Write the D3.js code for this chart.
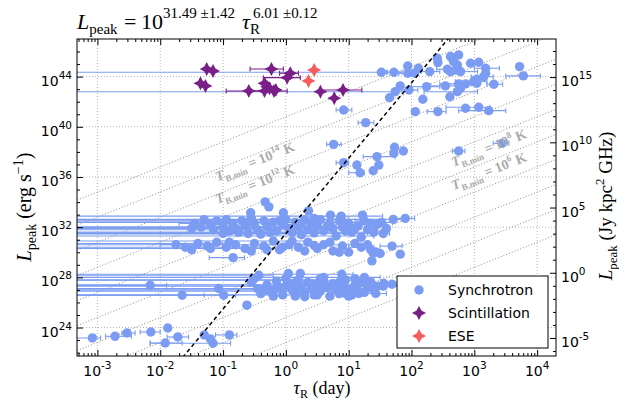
<!DOCTYPE html>
<html>
<head>
<meta charset="utf-8">
<script src="https://cdn.jsdelivr.net/npm/d3@7"></script>
<style>
body { margin: 0; background: #fff; }
svg text { font-family: "DejaVu Sans", sans-serif; }
.serif { font-family: "Liberation Serif", "DejaVu Serif", serif; }
</style>
</head>
<body>
<div id="chart"></div>
<script>
// rows: [log10 tau_R (day), log10 L_peak (erg/s), log10 tau of left bar end, log10 tau of right bar end]
// a left end of -9 means the lower limit runs off the plot, null means no error bar
var synchrotron = [
  // top group
  [1.52,44.35,-9,1.62],[1.72,44.35,1.60,1.85],[1.94,44.85,null,null],[1.94,44.27,1.80,2.10],
  [2.05,44.27,null,null],[2.11,44.67,null,null],[2.29,44.40,2.15,2.45],[2.41,45.47,null,null],
  [2.42,45.12,null,null],[2.62,45.60,null,null],[2.75,45.73,null,null],[2.67,45.20,null,null],
  [2.73,44.93,null,null],[2.57,44.59,2.40,2.80],[2.62,44.40,null,null],[2.70,44.53,null,null],
  [2.78,44.40,2.60,3.05],[2.94,45.07,null,null],[3.07,45.15,null,null],[3.18,44.67,3.00,3.40],
  [3.18,44.27,null,null],[3.15,44.00,2.95,3.30],[3.04,43.79,null,null],[2.99,43.60,2.70,3.20],
  [2.86,43.42,null,null],[2.75,43.42,2.45,2.95],[2.78,43.07,null,null],[2.73,42.80,2.20,3.05],
  [2.54,43.26,2.30,2.70],[2.24,43.20,2.00,2.45],[1.82,43.26,null,null],[1.74,42.80,-9,1.85],
  [1.65,42.32,null,null],[1.96,42.94,1.75,2.10],[2.18,42.20,null,null],[2.61,42.40,null,null],
  [3.04,43.47,null,null],[3.31,43.39,3.20,3.45],[3.72,44.80,null,null],[3.78,44.06,3.50,4.05],
  [2.06,41.21,null,null],[2.42,41.21,2.25,2.55],[2.86,41.48,null,null],[3.07,41.56,2.55,3.25],
  [3.23,41.29,2.75,3.50],[1.27,40.33,1.15,1.40],[0.92,41.34,0.80,1.05],
  // middle
  [0.76,38.60,0.65,0.88],[1.73,38.37,null,null],[0.92,37.14,0.80,1.00],[1.13,36.95,null,null],
  [1.18,36.34,1.00,1.25],[1.39,36.50,null,null],[1.48,36.95,null,null],[1.45,37.62,1.23,1.74],
  [1.72,37.89,null,null],[1.87,38.07,null,null],[2.75,38.07,2.65,2.85],[3.44,38.68,3.30,3.55],
  [-0.33,34.02,null,null],[-0.27,33.62,null,null],[-0.56,33.15,null,null],[-0.04,33.15,null,null],
  [0.36,33.30,null,null],
  // upper dense band
  [-1.45,32.30,-1.70,-1.20],[-1.30,32.60,null,null],[-1.20,32.20,null,null],[-1.10,32.50,-9,-0.60],
  [-1.00,32.10,null,null],[-0.95,32.60,null,null],[-0.85,32.30,null,null],[-0.80,31.90,-9,-0.50],
  [-0.70,32.50,null,null],[-0.65,32.10,null,null],[-0.55,32.70,null,null],[-0.50,32.30,null,null],
  [-0.45,31.80,null,null],[-0.35,32.50,null,null],[-0.30,32.00,-9,0.10],[-0.20,32.40,null,null],
  [-0.15,31.70,null,null],[-0.05,32.20,null,null],[0.00,32.60,null,null],[0.05,31.90,null,null],
  [0.15,32.40,null,null],[0.20,32.00,null,null],[0.30,32.60,null,null],[0.35,31.80,-9,0.60],
  [0.40,32.30,null,null],[0.50,32.10,null,null],[0.55,32.60,-9,1.00],[0.60,31.70,null,null],
  [0.70,32.30,null,null],[0.75,31.90,null,null],[0.85,32.50,null,null],[0.90,32.00,-9,1.20],
  [1.00,32.30,null,null],[1.05,31.60,-9,1.30],[1.15,32.10,null,null],[1.25,32.50,1.10,1.50],
  [1.30,31.80,null,null],[1.45,32.20,1.30,1.60],[1.55,31.50,-9,1.65],[-1.00,31.50,-9,-0.70],
  [-0.40,31.45,-9,0.20],[0.25,31.40,null,null],[0.80,31.30,-9,1.40],[1.20,31.20,null,null],
  [0.71,32.96,null,null],[0.88,32.88,-9,1.54],[1.22,32.96,null,null],[1.52,32.38,-9,1.70],
  [1.90,32.70,1.75,2.05],[1.71,32.62,-9,1.85],[-0.75,31.60,-9,0.05],
  [-1.35,32.00,null,null],[-1.15,31.80,null,null],[-0.90,31.70,null,null],[-0.60,31.50,null,null],
  [-0.25,31.60,null,null],[0.10,31.60,null,null],[0.45,31.55,null,null],[0.65,32.00,null,null],
  [0.95,31.70,null,null],[1.10,31.90,null,null],[1.35,32.30,null,null],[1.60,31.90,null,null],
  [-0.10,32.50,null,null],[0.25,32.25,null,null],[-0.60,32.40,null,null],[0.45,32.70,null,null],
  [0.95,32.20,null,null],[1.40,31.60,null,null],[-1.50,31.90,null,null],
  // lower dense band
  [-1.75,30.60,-2.00,-1.40],[-1.60,30.40,null,null],[-1.40,30.70,-9,-0.90],[-1.25,30.50,null,null],
  [-1.10,30.80,null,null],[-0.95,30.40,-9,-0.40],[-0.80,30.60,null,null],[-0.65,30.30,-9,0.10],
  [-0.50,30.70,null,null],[-0.35,30.50,null,null],[-0.20,30.90,-9,0.40],[-0.10,30.20,null,null],
  [0.05,30.60,null,null],[0.20,30.40,null,null],[0.35,30.80,null,null],[0.50,30.30,null,null],
  [0.60,30.60,-9,1.10],[0.75,30.10,null,null],[0.90,30.50,null,null],[1.00,30.00,null,null],
  [1.20,30.40,1.00,1.40],[1.35,30.20,null,null],[1.50,29.90,null,null],[1.69,30.49,1.50,1.85],
  [1.82,29.85,null,null],[1.43,30.03,null,null],[1.39,29.95,null,null],[1.37,29.31,null,null],
  [-0.84,29.57,-1.22,-0.66],
  [-1.50,30.20,null,null],[-1.20,30.30,null,null],[-0.90,30.80,null,null],[-0.55,30.10,null,null],
  [-0.30,30.20,null,null],[0.10,30.90,null,null],[0.30,30.10,null,null],[0.70,30.80,null,null],
  [0.85,30.00,null,null],[1.10,30.70,null,null],[1.30,30.60,null,null],[-0.05,30.40,null,null],
  [0.45,30.55,null,null],
  // 1e26 - 1e28 band
  [-2.16,27.37,-9,-1.90],[-1.65,26.57,-9,-1.30],[-1.07,27.11,null,null],[-0.99,26.57,-9,-0.80],
  [-0.62,25.78,null,null],[-0.43,28.17,-9,-0.20],[0.04,28.31,null,null],[0.23,28.31,null,null],
  [0.89,28.25,-9,1.07],[1.24,27.77,-9,1.40],[1.56,27.51,null,null],[1.69,27.45,null,null],
  [1.43,26.71,1.20,1.60],[0.95,26.71,null,null],[1.16,26.71,null,null],
  [-0.55,27.60,null,null],[-0.45,27.10,null,null],[-0.40,26.70,null,null],[-0.30,27.40,-9,0.00],
  [-0.25,26.90,null,null],[-0.15,27.70,null,null],[-0.10,27.20,null,null],[-0.05,26.60,-9,0.20],
  [0.05,27.50,null,null],[0.10,27.00,null,null],[0.15,26.50,null,null],[0.20,27.80,-9,0.50],
  [0.25,27.30,null,null],[0.30,26.80,null,null],[0.35,27.60,null,null],[0.40,27.10,-9,0.70],
  [0.45,26.60,null,null],[0.50,27.40,null,null],[0.55,26.90,null,null],[0.60,27.70,null,null],
  [0.65,27.20,null,null],[0.70,26.50,null,null],[0.75,27.50,null,null],[0.80,27.00,-9,1.20],
  [0.85,26.70,null,null],[0.90,27.30,null,null],[0.95,27.80,null,null],[1.00,27.10,null,null],
  [1.05,26.60,null,null],[1.10,27.40,null,null],[1.15,26.90,-9,1.45],[1.20,27.60,null,null],
  [1.30,27.20,null,null],[1.40,27.00,null,null],[-0.50,27.90,null,null],[0.00,27.90,null,null],
  [0.60,28.00,null,null],[-0.20,26.50,null,null],[0.30,26.45,null,null],[1.55,27.30,-9,1.80],
  [1.25,28.00,-9,1.50],
  [-0.35,27.00,null,null],[0.00,27.30,null,null],[0.20,26.90,null,null],[0.40,27.50,null,null],
  [0.55,27.90,null,null],[0.70,27.30,null,null],[0.85,27.60,null,null],[1.00,26.50,null,null],
  [1.10,27.90,null,null],[1.25,26.80,null,null],[1.35,27.60,null,null],[-0.15,27.10,null,null],
  [0.50,26.60,null,null],[1.45,27.30,null,null],[0.15,27.60,null,null],
  // faintest group
  [-3.08,23.17,-9,-2.95],[-2.72,23.30,-2.87,-2.46],[-2.53,23.56,-2.61,-2.40],[-2.15,23.64,-2.32,-2.00],
  [-1.88,23.96,null,null],[-1.72,23.25,-1.89,-1.55],[-1.92,22.77,-2.16,-1.65],[-1.30,23.41,null,null],
  [-1.20,23.09,null,null],[-1.16,22.75,-2.16,-0.88],[-0.90,23.41,-1.12,-0.78]
];

var scintillation = [
  [-1.26,44.61,null,null],[-1.16,44.45,null,null],[-1.36,43.47,null,null],[-1.28,43.26,null,null],
  [-0.23,44.61,-0.57,-0.04],[0.07,44.27,-0.10,0.20],[0.02,43.92,-0.36,0.23],[-0.59,42.86,-0.95,0.02],
  [-0.34,43.47,null,null],[-0.30,43.20,null,null],[-0.34,42.86,-0.55,-0.20],[-0.19,42.86,null,null],
  [-0.16,42.94,null,null],[-0.26,43.07,null,null],[0.55,42.80,null,null],[0.77,42.28,null,null],
  [0.91,42.94,0.55,1.21]
];

var ese = [
  [0.45,44.53,null,null],[0.36,43.66,null,null]
];

var xTicks = [-3, -2, -1, 0, 1, 2, 3, 4];
var yTicks = [24, 28, 32, 36, 40, 44];
var y2Ticks = [-5, 0, 5, 10, 15];

// fit from the title: L = 10^31.49 tau^6.01
var fitLogA = 31.49, fitSlope = 6.01;

// brightness temperature lines, log L = tbConst + log T_B + 2 log tau
var tbConst = 22.8;
var tbLines = [0, 2, 4, 6, 8, 10, 12, 14, 16, 18];
var tbLabels = [
  {T: 14, lt: -1.09, lL: 35.65},
  {T: 12, lt: -1.09, lL: 33.84},
  {T: 8, lt: 2.67, lL: 36.8},
  {T: 6, lt: 2.67, lL: 34.95}
];

var legendItems = ["Synchrotron", "Scintillation", "ESE"];

var blue = "#7b9cf2", purple = "#7a1f87", red = "#f85b5b";

var m = {left: 77, right: 63, top: 39, bottom: 44};
var w = 619 - m.left - m.right;
var h = 400 - m.top - m.bottom;

var svg = d3.select("#chart").append("svg")
  .attr("width", 619).attr("height", 400);
var g = svg.append("g").attr("transform", "translate(" + m.left + "," + m.top + ")");

var x = d3.scaleLog().domain([Math.pow(10, -3.325), Math.pow(10, 4.30)]).range([0, w]);
var y = d3.scaleLog().domain([Math.pow(10, 21.73), Math.pow(10, 47)]).range([h, 0]);
var y2 = d3.scaleLog().domain([Math.pow(10, -6.38), Math.pow(10, 17.92)]).range([h, 0]);

function p10(v) { return Math.pow(10, v); }

g.append("clipPath").attr("id", "clip")
  .append("rect").attr("width", w).attr("height", h);

// grid
g.selectAll(".gx").data(xTicks).enter().append("line")
  .attr("x1", d => x(p10(d))).attr("x2", d => x(p10(d)))
  .attr("y1", 0).attr("y2", h)
  .attr("stroke", "#b5b5b5").attr("stroke-dasharray", "1,2");
g.selectAll(".gy").data(yTicks).enter().append("line")
  .attr("y1", d => y(p10(d))).attr("y2", d => y(p10(d)))
  .attr("x1", 0).attr("x2", w)
  .attr("stroke", "#b5b5b5").attr("stroke-dasharray", "1,2");

var plot = g.append("g").attr("clip-path", "url(#clip)");

// T_B lines
var lineGen = d3.line().x(d => x(p10(d[0]))).y(d => y(p10(d[1])));
plot.selectAll(".tb").data(tbLines).enter().append("path")
  .attr("d", T => lineGen([[-3.5, tbConst + T - 7], [4.5, tbConst + T + 9]]))
  .attr("fill", "none").attr("stroke", "#6f6f6f").attr("stroke-width", 0.8)
  .attr("stroke-dasharray", "1,2");

function drawSeries(data, color, marker) {
  var bars = data.filter(d => d[2] !== null);
  var eb = plot.append("g").attr("stroke", color).attr("stroke-width", 1.1);
  eb.selectAll("line.bar").data(bars).enter().append("line")
    .attr("x1", d => x(p10(d[2]))).attr("x2", d => x(p10(d[3])))
    .attr("y1", d => y(p10(d[1]))).attr("y2", d => y(p10(d[1])));
  eb.selectAll("line.capl").data(bars.filter(d => d[2] > -9)).enter().append("line")
    .attr("x1", d => x(p10(d[2]))).attr("x2", d => x(p10(d[2])))
    .attr("y1", d => y(p10(d[1])) - 2.5).attr("y2", d => y(p10(d[1])) + 2.5);
  eb.selectAll("line.capr").data(bars).enter().append("line")
    .attr("x1", d => x(p10(d[3]))).attr("x2", d => x(p10(d[3])))
    .attr("y1", d => y(p10(d[1])) - 2.5).attr("y2", d => y(p10(d[1])) + 2.5);
  if (marker === "circle") {
    plot.append("g").selectAll("circle").data(data).enter().append("circle")
      .attr("cx", d => x(p10(d[0]))).attr("cy", d => y(p10(d[1])))
      .attr("r", 4.7).attr("fill", color);
  } else {
    plot.append("g").selectAll("path").data(data).enter().append("path")
      .attr("d", starPath(7, 2.4))
      .attr("transform", d => "translate(" + x(p10(d[0])) + "," + y(p10(d[1])) + ")")
      .attr("fill", color);
  }
}

function starPath(r, k) {
  return "M0," + (-r) + "L" + k + "," + (-k) + "L" + r + ",0L" + k + "," + k +
    "L0," + r + "L" + (-k) + "," + k + "L" + (-r) + ",0L" + (-k) + "," + (-k) + "Z";
}

drawSeries(synchrotron, blue, "circle");
drawSeries(scintillation, purple, "star");
drawSeries(ese, red, "star");

// fit line
plot.append("path")
  .attr("d", lineGen([[-2, fitLogA - 2 * fitSlope], [3, fitLogA + 3 * fitSlope]]))
  .attr("fill", "none").attr("stroke", "#000").attr("stroke-width", 1.5)
  .attr("stroke-dasharray", "4,3");

// T_B labels
var ang = Math.atan2(y(p10(2)) - y(1), x(10) - x(1)) * 180 / Math.PI;
tbLabels.forEach(function(d) {
  var t = g.append("text").attr("class", "serif")
    .attr("transform", "translate(" + x(p10(d.lt)) + "," + y(p10(d.lL)) + ") rotate(" + ang + ")")
    .attr("fill", "#ababab").attr("font-weight", "bold").attr("font-size", 14);
  t.append("tspan").attr("font-style", "italic").text("T");
  t.append("tspan").attr("font-size", 9).attr("dy", 4).text("B,min");
  t.append("tspan").attr("dy", -4).text(" = 10");
  t.append("tspan").attr("font-size", 9).attr("dy", -6).text(d.T);
  t.append("tspan").attr("dy", 6).text(" K");
});

// ticks
function minors(lo, hi) {
  var out = [];
  for (var e = lo; e <= hi; e++) for (var k = 2; k < 10; k++) out.push(k * p10(e));
  return out;
}
var xMinor = minors(-4, 4).filter(v => v > x.domain()[0] && v < x.domain()[1]);
var yMinor = d3.range(22, 47).filter(v => yTicks.indexOf(v) < 0).map(p10);
var y2Minor = d3.range(-6, 18).filter(v => y2Ticks.indexOf(v) < 0).map(p10);

function addAxis(axis, tr) {
  var a = g.append("g").attr("transform", tr).call(axis);
  a.select(".domain").remove();
  a.selectAll("text").remove();
  a.selectAll("line").attr("stroke", "#000");
}
addAxis(d3.axisBottom(x).tickValues(xTicks.map(p10)).tickSize(-6).tickSizeOuter(0), "translate(0," + h + ")");
addAxis(d3.axisBottom(x).tickValues(xMinor).tickSize(-3).tickSizeOuter(0), "translate(0," + h + ")");
addAxis(d3.axisTop(x).tickValues(xTicks.map(p10)).tickSize(-6).tickSizeOuter(0), "translate(0,0)");
addAxis(d3.axisTop(x).tickValues(xMinor).tickSize(-3).tickSizeOuter(0), "translate(0,0)");
addAxis(d3.axisLeft(y).tickValues(yTicks.map(p10)).tickSize(-6).tickSizeOuter(0), "translate(0,0)");
addAxis(d3.axisLeft(y).tickValues(yMinor).tickSize(-3).tickSizeOuter(0), "translate(0,0)");
addAxis(d3.axisRight(y2).tickValues(y2Ticks.map(p10)).tickSize(-6).tickSizeOuter(0), "translate(" + w + ",0)");
addAxis(d3.axisRight(y2).tickValues(y2Minor).tickSize(-3).tickSizeOuter(0), "translate(" + w + ",0)");

g.append("rect").attr("width", w).attr("height", h)
  .attr("fill", "none").attr("stroke", "#000").attr("stroke-width", 1);

function powText(sel, e) {
  sel.append("tspan").text("10");
  sel.append("tspan").attr("font-size", 10.5).attr("dy", -7).text(e);
}

g.selectAll(".xl").data(xTicks).enter().append("text")
  .attr("x", d => x(p10(d))).attr("y", h + 20)
  .attr("text-anchor", "middle").attr("font-size", 14)
  .each(function(d) { powText(d3.select(this), d); });

g.selectAll(".yl").data(yTicks).enter().append("text")
  .attr("x", -5).attr("y", d => y(p10(d)) + 9)
  .attr("text-anchor", "end").attr("font-size", 14)
  .each(function(d) { powText(d3.select(this), d); });

g.selectAll(".y2l").data(y2Ticks).enter().append("text")
  .attr("x", w + 5).attr("y", d => y2(p10(d)) + 9)
  .attr("text-anchor", "start").attr("font-size", 14)
  .each(function(d) { powText(d3.select(this), d); });

// title
var title = svg.append("text").attr("class", "serif").attr("x", 77).attr("y", 29).attr("font-size", 22);
title.append("tspan").attr("font-style", "italic").text("L");
title.append("tspan").attr("font-size", 15).attr("dy", 5).text("peak");
title.append("tspan").attr("dy", -5).attr("x", 124).text("=");
title.append("tspan").attr("x", 141).text("10");
title.append("tspan").attr("font-size", 15).attr("dy", -11).text("31.49 \u00b11.42");
title.append("tspan").attr("font-style", "italic").attr("dy", 11).attr("x", 242).text("\u03c4");
title.append("tspan").attr("font-size", 15).attr("dy", 5).text("R");
title.append("tspan").attr("font-size", 15).attr("dy", -16).attr("x", 253).text("6.01 \u00b10.12");

// axis titles
var yl = svg.append("text").attr("class", "serif")
  .attr("transform", "translate(31,207) rotate(-90)")
  .attr("text-anchor", "middle").attr("font-size", 20);
yl.append("tspan").attr("font-style", "italic").text("L");
yl.append("tspan").attr("font-size", 14).attr("dy", 5).text("peak");
yl.append("tspan").attr("dy", -5).text(" (erg s");
yl.append("tspan").attr("font-size", 14).attr("dy", -8).text("\u22121");
yl.append("tspan").attr("dy", 8).text(")");

var yr = svg.append("text").attr("class", "serif")
  .attr("transform", "translate(612,206) rotate(-90)")
  .attr("text-anchor", "middle").attr("font-size", 19);
yr.append("tspan").attr("font-style", "italic").text("L");
yr.append("tspan").attr("font-size", 13).attr("dy", 5).text("peak");
yr.append("tspan").attr("dy", -5).text(" (Jy kpc");
yr.append("tspan").attr("font-size", 13).attr("dy", -8).text("2");
yr.append("tspan").attr("dy", 8).text(" GHz)");

var xl = svg.append("text").attr("class", "serif")
  .attr("x", 322).attr("y", 394)
  .attr("text-anchor", "middle").attr("font-size", 18);
xl.append("tspan").attr("font-style", "italic").text("\u03c4");
xl.append("tspan").attr("font-size", 12).attr("dy", 4).text("R");
xl.append("tspan").attr("dy", -4).text(" (day)");

// legend
var lg = svg.append("g").attr("transform", "translate(397,276)");
lg.append("rect").attr("width", 151).attr("height", 72)
  .attr("fill", "#fff").attr("stroke", "#000").attr("stroke-width", 1);
legendItems.forEach(function(name, i) {
  var cy = 14 + i * 23;
  if (i === 0) {
    lg.append("circle").attr("cx", 22).attr("cy", cy).attr("r", 4.7).attr("fill", blue);
  } else {
    lg.append("path").attr("d", starPath(7, 2.4))
      .attr("transform", "translate(22," + cy + ")")
      .attr("fill", i === 1 ? purple : red);
  }
  lg.append("text").attr("x", 51).attr("y", cy + 5).attr("font-size", 14).text(name);
});
</script>
</body>
</html>
